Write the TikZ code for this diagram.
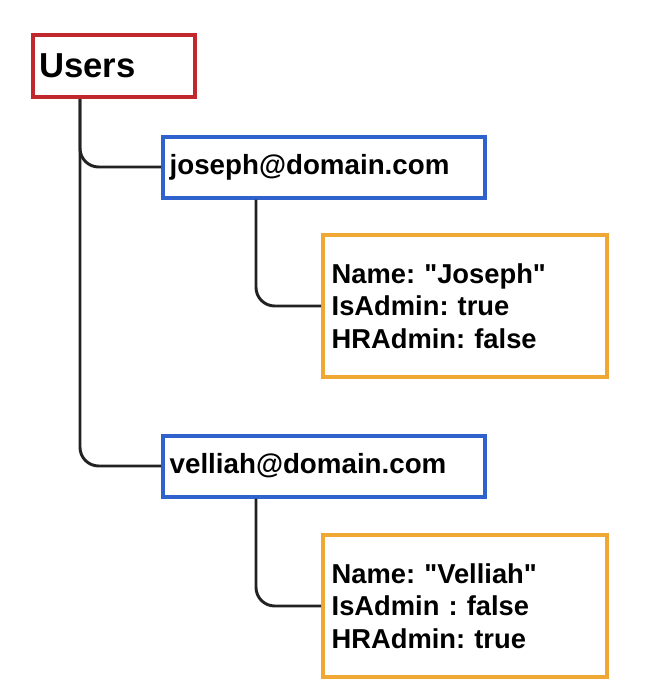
\documentclass[tikz,border=0pt]{standalone}
\usepackage{fontspec}
\setmainfont{Liberation Sans}
\usetikzlibrary{positioning,calc}
\definecolor{rootred}{HTML}{C0282E}
\definecolor{mailblue}{HTML}{2F62CC}
\definecolor{attrgold}{HTML}{EFA833}
\definecolor{wire}{HTML}{222222}
\frenchspacing

\begin{document}
\begin{tikzpicture}[x=0.75pt, y=-0.75pt,
    rootbox/.style={draw=rootred, line width=3pt, minimum height=46.5pt,
                    text width=112.5pt, inner xsep=4.5pt, align=left,
                    font=\bfseries\fontsize{26}{30}\selectfont},
    mailbox/.style={draw=mailblue, line width=3pt, minimum height=45.75pt,
                    text width=231.5pt, inner xsep=5pt, align=left,
                    font=\bfseries\fontsize{20.8}{24.5}\selectfont},
    attrbox/.style={draw=attrgold, line width=3pt, minimum height=106.5pt,
                    text width=200pt, inner xsep=6.5pt, align=left,
                    font=\bfseries\fontsize{20.5}{24.4}\selectfont},
    link/.style={draw=wire, line width=2.2pt, rounded corners=14pt}]

  \useasboundingbox (0,0) rectangle (646,696);

  % tree of nodes
  \node[rootbox] (users) at (114,66) {Users};
  \node[mailbox] (joseph) at (324,167) {joseph@domain.com};
  \node[attrbox] (josephattr) at (465,306)
    {Name: \textquotedbl Joseph\textquotedbl\\IsAdmin: true\\HRAdmin: false};
  \node[mailbox] (velliah) at (324,466) {velliah@domain.com};
  \node[attrbox] (velliahattr) at (465,606)
    {Name: \textquotedbl Velliah\textquotedbl\\IsAdmin : false\\HRAdmin: true};

  % connectors
  \draw[link] ($(users.south west)+(49,0)$) |- (joseph.west);
  \draw[link] ($(users.south west)+(49,0)$) |- (velliah.west);
  \draw[link] ($(joseph.south west)+(95,0)$) |- (josephattr.west);
  \draw[link] ($(velliah.south west)+(95,0)$) |- (velliahattr.west);
\end{tikzpicture}
\end{document}
